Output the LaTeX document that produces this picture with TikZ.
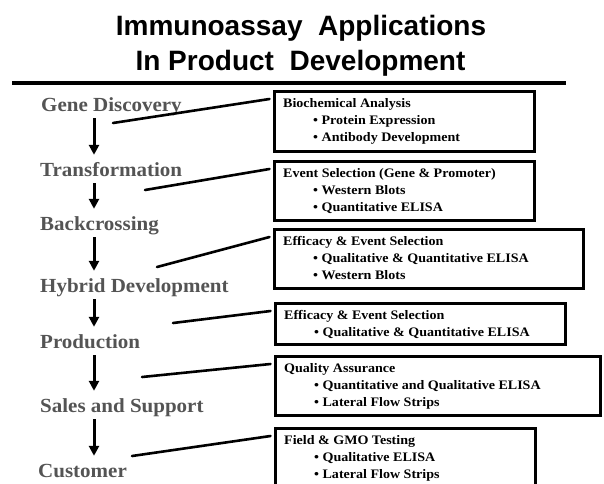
\documentclass[tikz,border=0pt]{standalone}
\usepackage{fontspec}
\setmainfont{Liberation Serif}
\newfontfamily\headsans{Liberation Sans}
\newfontfamily\stageserif{Liberation Serif}[FakeStretch=1.05]
\newfontfamily\assayserif{Liberation Serif}[FakeStretch=1.08]
\usetikzlibrary{positioning}
\usetikzlibrary{arrows.meta}
\definecolor{stagegray}{gray}{0.33}

\begin{document}
\begin{tikzpicture}[
x=1pt,y=1pt,
heading/.style={
	% Font
	font=\headsans\bfseries\fontsize{28}{34}\selectfont,
	anchor=base, inner sep=0pt},
stage/.style={
	% The text:
	font=\stageserif\bfseries\fontsize{20}{24}\selectfont, text=stagegray,
	text height=14pt, text depth=4pt,
	% Placement
	anchor=base west, inner xsep=0pt, inner ysep=3pt},
assaybox/.style={
	% The shape:
	rectangle, anchor=north west, inner sep=0pt, outer sep=0pt,
	% The border:
	draw=black, line width=2.6pt},
assaytext/.style={
	% Font
	font=\assayserif\bfseries\fontsize{13}{17}\selectfont,
	align=left, inner sep=0pt,
	execute at begin node=\strut},
flow/.style={line width=3pt, -{Triangle[length=10pt,width=10pt]}, shorten >=4pt},
link/.style={line width=2.6pt, line cap=round},
]
\useasboundingbox (0,0) rectangle (604,-483);

% title
\node (title-a) [heading] at (301,-35) {Immunoassay\ \ Applications};
\node (title-b) [heading] at (300.5,-70) {In Product\ \ Development};
\draw[line width=4pt] (12,-83) -- (566,-83);

% stages
\coordinate (spine) at (94,0);
\node (gene) [stage] at (41,-111) {Gene Discovery};
\node (trans) [stage] at (40,-176) {Transformation};
\node (back) [stage] at (40,-230) {Backcrossing};
\node (hybrid) [stage] at (40,-292) {Hybrid Development};
\node (prod) [stage] at (40,-348) {Production};
\node (sales) [stage] at (40,-412) {Sales and Support};
\node (cust) [stage] at (38,-477) {Customer};
\draw[flow] (gene.south -| spine) -- (trans.north -| spine);
\draw[flow] (trans.south -| spine) -- (back.north -| spine);
\draw[flow] (back.south -| spine) -- (hybrid.north -| spine);
\draw[flow] (hybrid.south -| spine) -- (prod.north -| spine);
\draw[flow] (prod.south -| spine) -- (sales.north -| spine);
\draw[flow] (sales.south -| spine) -- (cust.north -| spine);

% assay boxes
\node (bio) [assaybox, minimum width=260pt, minimum height=60pt] at (274.5,-91.5) {};
\node (bio-txt) [assaytext, below right=6.3pt and 8.5pt of bio.north west] {Biochemical Analysis\\
	\hspace*{30pt}\textbullet\ Protein Expression\\
	\hspace*{30pt}\textbullet\ Antibody Development};
\node (event) [assaybox, minimum width=260pt, minimum height=59pt] at (274.5,-161.5) {};
\node (event-txt) [assaytext, below right=6.3pt and 8.5pt of event.north west] {Event Selection (Gene \& Promoter)\\
	\hspace*{30pt}\textbullet\ Western Blots\\
	\hspace*{30pt}\textbullet\ Quantitative ELISA};
\node (effsel) [assaybox, minimum width=309pt, minimum height=59pt] at (274.5,-229.5) {};
\node (effsel-txt) [assaytext, below right=6.3pt and 8.5pt of effsel.north west] {Efficacy \& Event Selection\\
	\hspace*{30pt}\textbullet\ Qualitative \& Quantitative ELISA\\
	\hspace*{30pt}\textbullet\ Western Blots};
\node (effelisa) [assaybox, minimum width=290pt, minimum height=41pt] at (275.5,-303.5) {};
\node (effelisa-txt) [assaytext, below right=6.3pt and 8.5pt of effelisa.north west] {Efficacy \& Event Selection\\
	\hspace*{30pt}\textbullet\ Qualitative \& Quantitative ELISA};
\node (qa) [assaybox, minimum width=325pt, minimum height=59pt] at (275.5,-356.5) {};
\node (qa-txt) [assaytext, below right=6.3pt and 8.5pt of qa.north west] {Quality Assurance\\
	\hspace*{30pt}\textbullet\ Quantitative and Qualitative ELISA\\
	\hspace*{30pt}\textbullet\ Lateral Flow Strips};
\node (field) [assaybox, minimum width=260pt, minimum height=80pt] at (275.5,-428.5) {};
\node (field-txt) [assaytext, below right=6.3pt and 8.5pt of field.north west] {Field \& GMO Testing\\
	\hspace*{30pt}\textbullet\ Qualitative ELISA\\
	\hspace*{30pt}\textbullet\ Lateral Flow Strips};

% links from stages to boxes
\coordinate (gene-link) at (113,-123);
\coordinate (trans-link) at (145,-190);
\coordinate (back-link) at (157,-267);
\coordinate (hybrid-link) at (173,-323);
\coordinate (prod-link) at (142,-377);
\coordinate (sales-link) at (132,-456);
\draw[link] (gene-link) -- ([shift={(-5pt,-7.5pt)}]bio.north west);
\draw[link] (trans-link) -- ([shift={(-5pt,-7.5pt)}]event.north west);
\draw[link] (back-link) -- ([shift={(-5pt,-7.5pt)}]effsel.north west);
\draw[link] (hybrid-link) -- ([shift={(-5pt,-7.5pt)}]effelisa.north west);
\draw[link] (prod-link) -- ([shift={(-5pt,-7.5pt)}]qa.north west);
\draw[link] (sales-link) -- ([shift={(-5pt,-7.5pt)}]field.north west);
\end{tikzpicture}
\end{document}
